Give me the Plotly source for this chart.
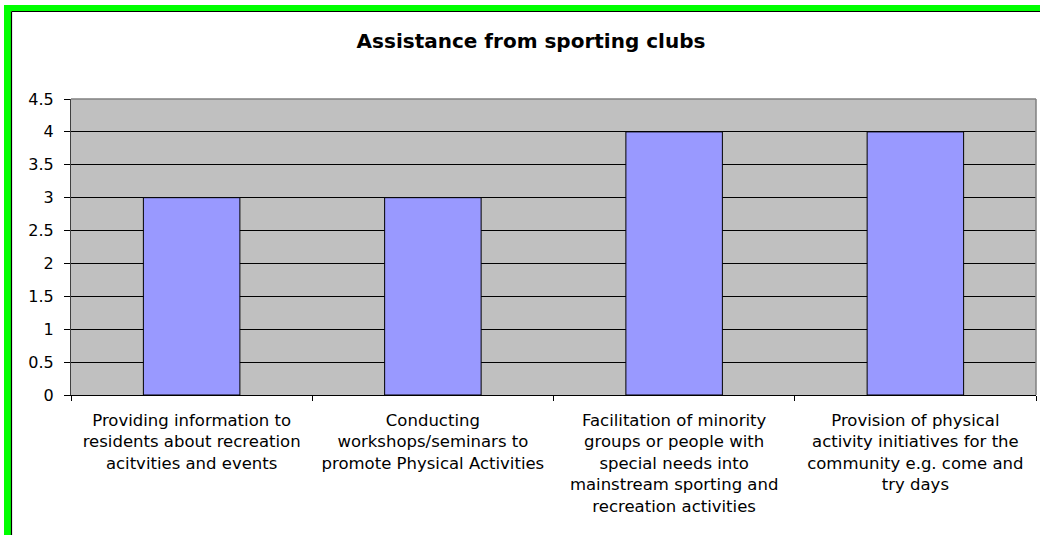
import plotly.graph_objects as go

# ---- data ----
categories = [
    "Providing information to<br>residents about recreation<br>acitvities and events",
    "Conducting<br>workshops/seminars to<br>promote Physical Activities",
    "Facilitation of minority<br>groups or people with<br>special needs into<br>mainstream sporting and<br>recreation activities",
    "Provision of physical<br>activity initiatives for the<br>community e.g. come and<br>try days",
]
values = [3, 3, 4, 4]
y_ticks = [0, 0.5, 1, 1.5, 2, 2.5, 3, 3.5, 4, 4.5]
title_text = "Assistance from sporting clubs"

W, H = 1040, 535
L, R, T, B = 71, 4, 99, 140
pw, ph = W - L - R, H - T - B

def px_x(px):
    return (px - L) / pw

def px_y(py):
    return (H - B - py) / ph

fig = go.Figure()
fig.add_trace(go.Bar(
    x=categories, y=values,
    marker=dict(color="#9999FF", line=dict(color="#000000", width=1)),
    hoverinfo="skip",
))

shapes = [
    # plot area top and right borders (gray)
    dict(type="line", xref="paper", yref="paper", x0=0, x1=1, y0=1, y1=1,
         line=dict(color="#808080", width=1.5)),
    dict(type="line", xref="paper", yref="paper", x0=1, x1=1, y0=0, y1=1,
         line=dict(color="#808080", width=1.5)),
    # green page border (left and top)
    dict(type="rect", xref="paper", yref="paper", x0=px_x(4), x1=px_x(11),
         y0=px_y(H), y1=px_y(5), fillcolor="#00FF00", line=dict(width=0)),
    dict(type="rect", xref="paper", yref="paper", x0=px_x(4), x1=px_x(W),
         y0=px_y(11), y1=px_y(5), fillcolor="#00FF00", line=dict(width=0)),
    # thin black inner line
    dict(type="line", xref="paper", yref="paper", x0=px_x(11.5), x1=px_x(11.5),
         y0=px_y(H), y1=px_y(11.5), line=dict(color="#000000", width=1.2)),
    dict(type="line", xref="paper", yref="paper", x0=px_x(11.5), x1=px_x(W),
         y0=px_y(11.5), y1=px_y(11.5), line=dict(color="#000000", width=1.2)),
]

fig.update_layout(
    width=W, height=H,
    margin=dict(l=L, r=R, t=T, b=B, pad=0),
    paper_bgcolor="#FFFFFF",
    plot_bgcolor="#C0C0C0",
    bargap=0.6,
    showlegend=False,
    font=dict(family="DejaVu Sans", color="#000000"),
    title=dict(
        text="<b>" + title_text + "</b>",
        font=dict(family="DejaVu Sans", size=20, color="#000000"),
        xref="container", yref="container",
        x=531 / W, y=1 - 41 / H, xanchor="center", yanchor="middle",
    ),
    shapes=shapes,
)

fig.update_xaxes(
    type="category",
    showgrid=False,
    showline=True, linecolor="#000000", linewidth=1,
    ticks="outside", tickson="boundaries", ticklen=5, tickcolor="#000000",
    tickfont=dict(family="DejaVu Sans", size=16.5, color="#000000"),
    tickangle=0,
    ticklabelstandoff=10,
    zeroline=False,
)
fig.update_yaxes(
    range=[0, 4.5],
    tickvals=y_ticks,
    showgrid=True, gridcolor="#000000", gridwidth=1,
    showline=True, linecolor="#404040", linewidth=1,
    ticks="outside", ticklen=6, tickcolor="#000000",
    tickfont=dict(family="DejaVu Sans", size=16, color="#000000"),
    ticklabelstandoff=7,
    zeroline=False,
)

fig.write_html("out.html", config={"displayModeBar": False})
